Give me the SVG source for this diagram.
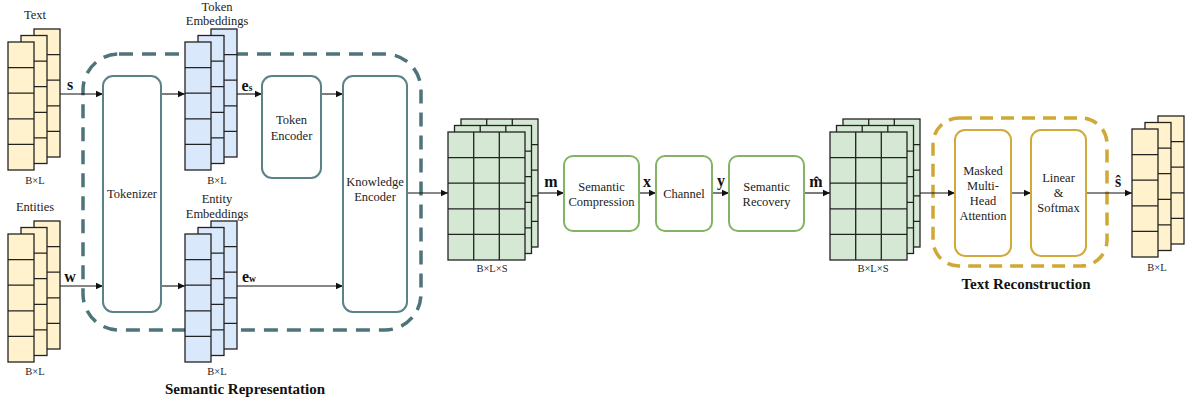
<svg xmlns="http://www.w3.org/2000/svg" xmlns:xlink="http://www.w3.org/1999/xlink" width="1193" height="407" viewBox="0 0 1193 407" font-family="'Liberation Serif', 'Times New Roman', Tinos, 'DejaVu Serif', serif">
  <style>
    text { font-family: 'Liberation Serif', 'Times New Roman', Tinos, 'DejaVu Serif', serif; }
    .lbl { font-size: 12.5px; fill: #222; text-anchor: middle; }
    .dim { font-size: 10.5px; fill: #222; text-anchor: middle; }
    .var { font-size: 16px; font-weight: bold; fill: #111; text-anchor: middle; }
    .sub { font-size: 9.5px; }
    .title { font-size: 15px; font-weight: bold; fill: #111; text-anchor: middle; }
    .tealbox { fill: #fff; stroke: #5b8288; stroke-width: 2; }
    .greenbox { fill: #fff; stroke: #82b366; stroke-width: 2; }
    .goldbox { fill: #fff; stroke: #d0aa3a; stroke-width: 2; }
    .cell { stroke: #222; stroke-width: 1.3; }
    .yl { fill: #fff2cc; }
    .bl { fill: #dae8fc; }
    .gr { fill: #d5e8d4; }
    .conn { stroke: #111; stroke-width: 1.1; fill: none; marker-end: url(#arrow); }
  </style>
  <defs>
    <marker id="arrow" markerUnits="userSpaceOnUse" markerWidth="8" markerHeight="8" refX="7" refY="4" orient="auto">
      <path d="M0,0.8 L7,4 L0,7.2 z" fill="#111"/>
    </marker>
    <!-- one column layer: 26 x 128, five rows -->
    <g id="col">
      <rect x="0" y="0" width="26" height="128"/>
      <path d="M0,25.6 H26 M0,51.2 H26 M0,76.8 H26 M0,102.4 H26" fill="none"/>
    </g>
    <!-- three stacked column layers -->
    <g id="colStack" class="cell">
      <use xlink:href="#col" x="26" y="-13"/>
      <use xlink:href="#col" x="13" y="-6.5"/>
      <use xlink:href="#col" x="0" y="0"/>
    </g>
    <!-- one grid layer: 77 x 128, 3 x 5 cells -->
    <g id="grid">
      <rect x="0" y="0" width="77" height="128"/>
      <path d="M25.7,0 V128 M51.3,0 V128 M0,25.6 H77 M0,51.2 H77 M0,76.8 H77 M0,102.4 H77" fill="none"/>
    </g>
    <g id="gridStack" class="cell gr">
      <use xlink:href="#grid" x="13" y="-13"/>
      <use xlink:href="#grid" x="6.5" y="-6.5"/>
      <use xlink:href="#grid" x="0" y="0"/>
    </g>
  </defs>

  <rect width="1193" height="407" fill="#fff"/>

  <!-- group outlines -->
  <g id="semantic-representation">
    <rect x="83" y="54" width="338" height="276" rx="36" fill="none" stroke="#4e7479" stroke-width="3.5" stroke-dasharray="14 9"/>
    <text class="title" x="245" y="394">Semantic Representation</text>
  </g>
  <g id="text-reconstruction">
    <rect x="933" y="118" width="174" height="148" rx="26" fill="none" stroke="#cfa836" stroke-width="3.5" stroke-dasharray="13 8"/>
    <text class="title" x="1026" y="289">Text  Reconstruction</text>
  </g>

  <!-- connectors -->
  <g id="connectors">
    <line class="conn" x1="60" y1="94" x2="103" y2="94"/>
    <line class="conn" x1="161" y1="94" x2="185" y2="94"/>
    <line class="conn" x1="237" y1="94" x2="262" y2="94"/>
    <line class="conn" x1="321" y1="94" x2="343" y2="94"/>
    <line class="conn" x1="60" y1="286" x2="103" y2="286"/>
    <line class="conn" x1="161" y1="286" x2="185" y2="286"/>
    <line class="conn" x1="237" y1="286" x2="343" y2="286"/>
    <line class="conn" x1="407" y1="193" x2="448" y2="193"/>
    <line class="conn" x1="538" y1="193" x2="564" y2="193"/>
    <line class="conn" x1="639" y1="193" x2="656" y2="193"/>
    <line class="conn" x1="712" y1="193" x2="729" y2="193"/>
    <line class="conn" x1="804" y1="193" x2="830" y2="193"/>
    <line class="conn" x1="920" y1="193" x2="955" y2="193"/>
    <line class="conn" x1="1011" y1="193" x2="1031" y2="193"/>
    <line class="conn" x1="1086" y1="193" x2="1132" y2="193"/>
    <text class="var" x="70" y="90">s</text>
    <text class="var" x="70" y="282">w</text>
    <text class="var" x="247" y="91">e<tspan class="sub">s</tspan></text>
    <text class="var" x="249" y="282">e<tspan class="sub">w</tspan></text>
    <text class="var" x="551" y="187">m</text>
    <text class="var" x="647" y="187">x</text>
    <text class="var" x="721" y="186">y</text>
    <text class="var" x="816" y="187">m̂</text>
    <text class="var" x="1118" y="187">ŝ</text>
  </g>

  <!-- inputs -->
  <g id="text-input" class="yl">
    <use xlink:href="#colStack" x="8" y="42"/>
    <text class="lbl" x="35" y="19">Text</text>
    <text class="dim" x="35" y="184">B×L</text>
  </g>
  <g id="entities-input" class="yl">
    <use xlink:href="#colStack" x="8" y="234"/>
    <text class="lbl" x="35" y="211">Entities</text>
    <text class="dim" x="35" y="375">B×L</text>
  </g>

  <g id="tokenizer">
    <rect class="tealbox" x="103" y="76" width="58" height="236" rx="10"/>
    <text class="lbl" x="132" y="198">Tokenizer</text>
  </g>

  <g id="token-embeddings" class="bl">
    <use xlink:href="#colStack" x="185" y="42"/>
    <text class="lbl" x="217" y="11">Token</text>
    <text class="lbl" x="217" y="25">Embeddings</text>
    <text class="dim" x="217" y="184">B×L</text>
  </g>
  <g id="entity-embeddings" class="bl">
    <use xlink:href="#colStack" x="185" y="234"/>
    <text class="lbl" x="217" y="203">Entity</text>
    <text class="lbl" x="217" y="218">Embeddings</text>
    <text class="dim" x="217" y="375">B×L</text>
  </g>

  <g id="token-encoder">
    <rect class="tealbox" x="262" y="76" width="59" height="102" rx="10"/>
    <text class="lbl" x="291.5" y="124">Token</text>
    <text class="lbl" x="291.5" y="139.5">Encoder</text>
  </g>

  <g id="knowledge-encoder">
    <rect class="tealbox" x="343" y="76" width="64" height="236" rx="10"/>
    <text class="lbl" x="375" y="185.5">Knowledge</text>
    <text class="lbl" x="375" y="201">Encoder</text>
  </g>

  <g id="semantic-features">
    <use xlink:href="#gridStack" x="448" y="132"/>
    <text class="dim" x="492" y="272">B×L×S</text>
  </g>

  <g id="semantic-compression">
    <rect class="greenbox" x="564" y="156" width="75" height="75" rx="9"/>
    <text class="lbl" x="601.5" y="191">Semantic</text>
    <text class="lbl" x="601.5" y="205.5">Compression</text>
  </g>

  <g id="channel">
    <rect class="greenbox" x="656" y="156" width="56" height="75" rx="9"/>
    <text class="lbl" x="684" y="198">Channel</text>
  </g>

  <g id="semantic-recovery">
    <rect class="greenbox" x="729" y="156" width="75" height="75" rx="9"/>
    <text class="lbl" x="766.5" y="191">Semantic</text>
    <text class="lbl" x="766.5" y="205.5">Recovery</text>
  </g>

  <g id="recovered-features">
    <use xlink:href="#gridStack" x="830" y="132"/>
    <text class="dim" x="873" y="272">B×L×S</text>
  </g>

  <g id="masked-attention">
    <rect class="goldbox" x="955" y="130" width="56" height="126" rx="10"/>
    <text class="lbl" x="983" y="175">Masked</text>
    <text class="lbl" x="983" y="190">Multi-</text>
    <text class="lbl" x="983" y="205">Head</text>
    <text class="lbl" x="983" y="220">Attention</text>
  </g>

  <g id="linear-softmax">
    <rect class="goldbox" x="1031" y="130" width="55" height="126" rx="10"/>
    <text class="lbl" x="1058.5" y="182">Linear</text>
    <text class="lbl" x="1058.5" y="197">&amp;</text>
    <text class="lbl" x="1058.5" y="212">Softmax</text>
  </g>

  <g id="text-output" class="yl">
    <use xlink:href="#colStack" x="1132" y="129"/>
    <text class="dim" x="1157" y="271">B×L</text>
  </g>
</svg>
